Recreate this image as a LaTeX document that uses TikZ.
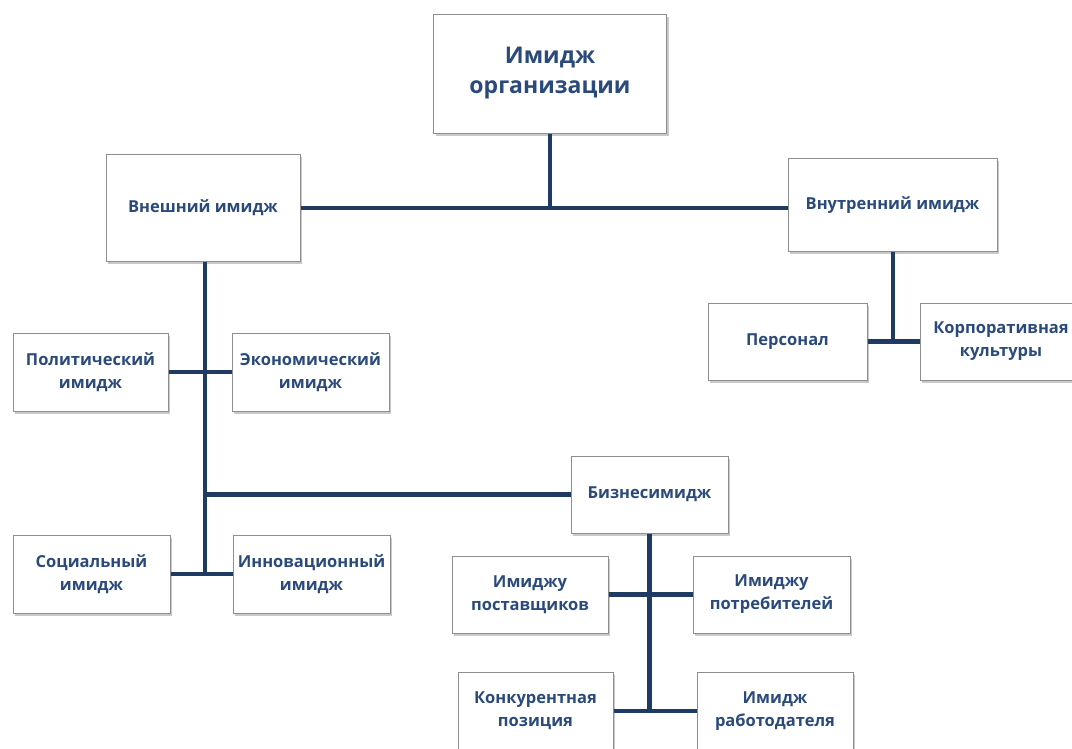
\documentclass[tikz,border=0pt]{standalone}
\usepackage{fontspec}
\setmainfont{Open Sans}
\usetikzlibrary{shadows}
\definecolor{txtblue}{HTML}{2B4A7C}
\definecolor{navy}{HTML}{1F3B64}
\definecolor{bordergray}{HTML}{8E8E8E}
\tikzset{
  box/.style={draw=bordergray, line width=1pt, fill=white, align=center,
    text=txtblue, font=\fontsize{16.5}{23}\selectfont\bfseries, inner sep=2pt,
    drop shadow={shadow xshift=2pt, shadow yshift=-2.5pt, opacity=0.35, fill=black!60}},
  conn/.style={draw=navy, line width=4.5pt}
}
\begin{document}
\begin{tikzpicture}[x=1pt,y=-1pt]
\clip (0,0) rectangle (1072,748);
\fill[white] (0,0) rectangle (1072,748);
% nodes
\node[box, minimum width=233pt, minimum height=119pt, font=\fontsize{23}{30}\selectfont\bfseries] (top) at (550,73.5) {Имидж\\организации};
\node[box, minimum width=194pt, minimum height=107pt] (ext) at (203,207.5) {Внешний имидж};
\node[box, minimum width=209pt, minimum height=93pt] (int) at (892.5,205) {Внутренний имидж};
\node[box, minimum width=159pt, minimum height=77pt] (pers) at (787.5,341.5) {Персонал};
\node[box, minimum width=162pt, minimum height=77pt] (korp) at (1001,341.5) {Корпоративная\\культуры};
\node[box, minimum width=155pt, minimum height=78pt] (pol) at (90.5,372) {Политический\\имидж};
\node[box, minimum width=157pt, minimum height=78pt] (eco) at (310.5,372) {Экономический\\имидж};
\node[box, minimum width=157pt, minimum height=78pt] (soc) at (91.5,574) {Социальный\\имидж};
\node[box, minimum width=157pt, minimum height=78pt] (inn) at (311.5,574) {Инновационный\\имидж};
\node[box, minimum width=157pt, minimum height=77pt] (biz) at (649.5,494.5) {Бизнесимидж};
\node[box, minimum width=156pt, minimum height=77pt] (post) at (530,594.5) {Имиджу\\поставщиков};
\node[box, minimum width=157pt, minimum height=77pt] (potr) at (771.5,594.5) {Имиджу\\потребителей};
\node[box, minimum width=155pt, minimum height=78pt] (konk) at (535.5,711) {Конкурентная\\позиция};
\node[box, minimum width=156pt, minimum height=78pt] (rab) at (775,711) {Имидж\\работодателя};
% connectors
\coordinate (hub) at (top.south |- 0,208);
\draw[conn] (top.south) -- (hub);
\draw[conn] (ext.east |- hub) -- (int.west |- hub);
\coordinate (ispine) at (int.south -| 893,0);
\draw[conn] (ispine) -- (ispine |- pers.east);
\draw[conn] (pers.east) -- (korp.west);
\coordinate (espine) at (205,0 |- ext.south);
\draw[conn] (espine) -- (espine |- soc.east);
\draw[conn] (pol.east) -- (eco.west);
\draw[conn] (soc.east) -- (inn.west);
\draw[conn] (espine |- biz.west) -- (biz.west);
\draw[conn] (biz.south) -- (biz.south |- konk.east);
\draw[conn] (post.east) -- (potr.west);
\draw[conn] (konk.east) -- (rab.west);
\end{tikzpicture}
\end{document}
